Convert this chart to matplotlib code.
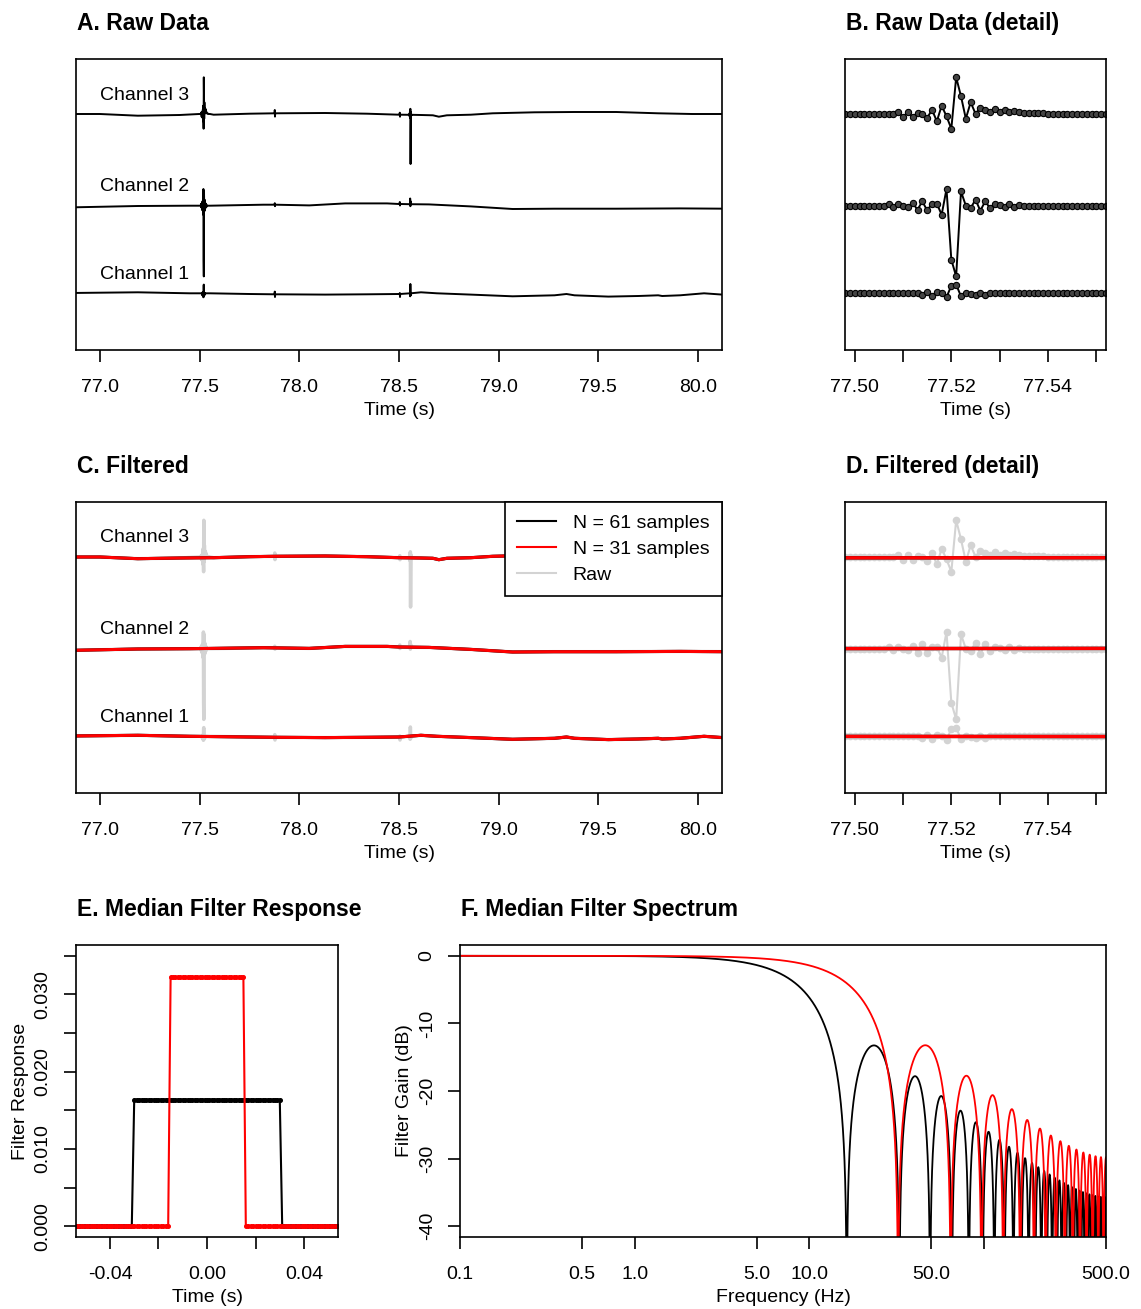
import numpy as np
import matplotlib
matplotlib.use("Agg")
import matplotlib.pyplot as plt
from matplotlib.lines import Line2D

plt.rcParams['font.family'] = ['Liberation Sans', 'DejaVu Sans']
plt.rcParams['axes.unicode_minus'] = False

# ---- raw traces: slow baseline waypoints (deviation from channel offset) ----
ch_offsets = [56.7, 144.3, 236.0]
ch_names = ["Channel 1", "Channel 2", "Channel 3"]

ch1_base_t = [76.85, 77.19, 77.45, 77.75, 77.88, 78.13, 78.34, 78.50, 78.61, 78.69, 78.86,
              79.07, 79.28, 79.34, 79.38, 79.55, 79.70, 79.80, 79.82, 79.91, 80.03, 80.15]
ch1_base_v = [0.3, 1.0, 0.0, -0.7, -1.0, -1.3, -1.0, -0.7, 1.0, 0.0, -1.3,
              -3.0, -2.0, -0.7, -2.0, -3.3, -2.7, -2.0, -2.7, -2.0, 0.0, -1.7]

ch2_base_t = [76.85, 77.19, 77.45, 77.82, 78.05, 78.23, 78.44, 78.50, 78.65, 78.86, 79.07,
              79.28, 79.59, 79.91, 80.15]
ch2_base_v = [-1.7, -0.3, 0.0, 1.0, 0.3, 2.3, 2.3, 1.7, 1.3, -0.7, -3.3,
              -3.0, -3.0, -2.7, -3.0]

ch3_base_t = [76.85, 77.00, 77.19, 77.40, 77.57, 77.75, 77.88, 78.13, 78.34, 78.50, 78.61,
              78.67, 78.70, 78.74, 78.86, 78.97, 79.18, 79.38, 79.59, 79.80, 79.97, 80.15]
ch3_base_v = [0.0, 0.0, -1.7, -1.0, -0.7, 0.3, 0.7, 1.0, 0.3, -0.7, -1.0,
              -1.3, -2.7, -1.3, -0.7, 0.7, 1.7, 2.0, 2.0, 0.7, 0.0, 0.0]

# ---- 1 kHz samples around the first spike (77.498 .. 77.552 s) ----
detail_t0 = 77.498
ch1_detail = [0.0] * 16 + [-2.0, 1.0, -2.3, 1.0, 0.3, -4.0, 7.7, 8.7, -3.0, 0.3, -0.3,
                           -1.3, 0.3, -1.3] + [0.0] * 25
ch2_detail = [0.0] * 9 + [1.7, -1.7, 2.0, 0.0, -1.3, 2.7, -4.0, 4.3, -4.7, 2.0, 2.0, -9.0,
                          16.7, -54.0, -70.7, 14.3, 0.0, -2.3, 6.0, -5.0, 4.3, -2.3, 1.7,
                          1.0, -1.3, 2.0, -1.7, 1.0] + [0.0] * 18
ch3_detail = [0.0] * 11 + [1.7, -2.7, 1.7, -2.7, 1.0, 0.0, -4.0, 4.3, -7.3, 8.3, -2.3,
                           -14.7, 36.7, 17.7, -4.7, 11.7, 0.3, 6.0, 4.3, 2.0, 5.3, 1.7,
                           3.7, 1.7, 2.7, 2.0, 1.0] + [0.7, 0.7, 0.7, 0.7, 0.3, 0.3, 0.3,
                                                       0.3] + [0.0] * 9

# ---- other short transients (raw only), 1 kHz samples ----
ch1_ev_t = [77.876, 77.877, 77.878, 77.879, 78.503, 78.504, 78.505, 78.506,
            78.555, 78.556, 78.557, 78.558, 78.559, 78.560]
ch1_ev_v = [-1.0, 1.7, -3.7, -1.0, -0.7, 0.3, -3.7, -0.7,
            0.0, -3.0, 9.3, 2.0, -2.0, 0.0]
ch2_ev_t = [77.876, 77.877, 77.878, 77.879, 78.503, 78.504, 78.505, 78.506,
            78.555, 78.556, 78.557, 78.558, 78.559]
ch2_ev_v = [1.0, 2.5, -0.5, 1.0, 1.7, 3.7, 0.2, 1.7,
            1.5, 7.2, -0.5, 4.5, 1.5]
ch3_ev_t = [77.876, 77.877, 77.878, 77.879, 78.503, 78.504, 78.505, 78.506,
            78.552, 78.553, 78.554, 78.555, 78.556, 78.557, 78.558, 78.559, 78.560,
            78.561, 78.562]
ch3_ev_v = [0.7, 4.0, -2.6, 0.7, -0.7, 1.3, -2.7, -0.7,
            -0.8, 0.7, -2.8, 3.2, -3.8, 5.2, -50.0, -18.0, 2.2, -1.8, -0.8]

# ---- filters ----
filter_lengths = [61, 31]
filter_colors = ["black", "red"]
fs = 1000.0
kernel_samples = np.arange(-55, 56)

W, H = 1141, 1309
FS = 14
fig = plt.figure(figsize=(W / 100, H / 100), dpi=100)


def add_ax(l, t, r, b):
    return fig.add_axes([l / W, 1 - b / H, (r - l) / W, (b - t) / H])


def style(ax):
    for s in ax.spines.values():
        s.set_linewidth(1.2)
    ax.tick_params(direction='out', length=8.5, width=1.2, labelsize=FS, pad=12.5)


def title(ax, txt):
    ax.set_title(txt, loc='left', fontsize=16.5, fontweight='bold', pad=21, x=0.002)


det_t = detail_t0 + np.arange(len(ch1_detail)) / fs
bases = [(ch1_base_t, ch1_base_v), (ch2_base_t, ch2_base_v), (ch3_base_t, ch3_base_v)]
details = [ch1_detail, ch2_detail, ch3_detail]
events = [(ch1_ev_t, ch1_ev_v), (ch2_ev_t, ch2_ev_v), (ch3_ev_t, ch3_ev_v)]


def raw_trace(i):
    bt, bv = np.array(bases[i][0]), np.array(bases[i][1])
    keep = (bt < det_t[0]) | (bt > det_t[-1])
    t = np.concatenate([bt[keep], det_t, events[i][0]])
    v = np.concatenate([bv[keep], details[i], events[i][1]])
    o = np.argsort(t)
    return t[o], v[o] + ch_offsets[i]


def time_axis(ax, ticks, labels):
    ax.set_xticks(ticks)
    ax.set_xticklabels(labels)
    ax.set_yticks([])
    ax.set_ylim(0, 291)
    ax.set_xlabel("Time (s)", fontsize=FS, labelpad=4)


wide_ticks = [77.0, 77.5, 78.0, 78.5, 79.0, 79.5, 80.0]
wide_labels = ["%.1f" % v for v in wide_ticks]
det_ticks = [77.50, 77.51, 77.52, 77.53, 77.54, 77.55]
det_labels = ["77.50", "", "77.52", "", "77.54", ""]

# A. raw
axA = add_ax(76, 59, 722, 350)
style(axA)
for i in range(3):
    t, v = raw_trace(i)
    axA.plot(t, v, color='black', lw=1.4)
    axA.text(77.0, ch_offsets[i] + 19, ch_names[i], fontsize=FS, va='center', ha='left')
axA.set_xlim(76.88, 80.12)
time_axis(axA, wide_ticks, wide_labels)
title(axA, "A. Raw Data")

# B. raw detail
axB = add_ax(845, 59, 1106, 350)
style(axB)
for i in range(3):
    axB.plot(det_t, np.array(details[i]) + ch_offsets[i], color='black', lw=1.4,
             marker='o', ms=4.5, mfc='#444444', mec='black', mew=0.8)
axB.set_xlim(77.498, 77.552)
time_axis(axB, det_ticks, det_labels)
title(axB, "B. Raw Data (detail)")

# C. filtered
axC = add_ax(76, 502, 722, 793)
style(axC)
for i in range(3):
    t, v = raw_trace(i)
    axC.plot(t, v, color='#d3d3d3', lw=2.5)
    bt, bv = np.array(bases[i][0]), np.array(bases[i][1]) + ch_offsets[i]
    for c in filter_colors:
        axC.plot(bt, bv, color=c, lw=2.2)
    axC.text(77.0, ch_offsets[i] + 19, ch_names[i], fontsize=FS, va='center', ha='left')
axC.set_xlim(76.88, 80.12)
time_axis(axC, wide_ticks, wide_labels)
title(axC, "C. Filtered")
handles = [Line2D([], [], color='black', lw=1.5), Line2D([], [], color='red', lw=1.5),
           Line2D([], [], color='#d3d3d3', lw=1.5)]
labels = ["N = %d samples" % n for n in filter_lengths] + ["Raw"]
leg = axC.legend(handles, labels, loc='upper right', borderaxespad=0, fontsize=FS,
                 fancybox=False, framealpha=1, edgecolor='black', handlelength=2.0,
                 handletextpad=0.85, labelspacing=0.42, borderpad=0.65)
leg.get_frame().set_linewidth(1.2)

# D. filtered detail
axD = add_ax(845, 502, 1106, 793)
style(axD)
for i in range(3):
    axD.plot(det_t, np.array(details[i]) + ch_offsets[i], color='#d3d3d3', lw=1.5,
             marker='o', ms=4.5, mfc='#d3d3d3', mec='#d3d3d3')
    bt, bv = np.array(bases[i][0]), np.array(bases[i][1]) + ch_offsets[i]
    for c in filter_colors:
        axD.plot(bt, bv, color=c, lw=2.4)
axD.set_xlim(77.498, 77.552)
time_axis(axD, det_ticks, det_labels)
title(axD, "D. Filtered (detail)")

# E. filter response
axE = add_ax(76, 945, 338, 1237)
style(axE)
kt = kernel_samples / fs
for n, c in zip(filter_lengths, filter_colors):
    k = np.where(np.abs(kernel_samples) <= (n - 1) // 2, 1.0 / n, 0.0)
    axE.plot(kt, k, color=c, lw=1.5, marker='o', ms=2.6, mec=c, mfc=c)
axE.set_xlim(-0.054, 0.054)
axE.set_ylim(-0.0014, 0.0364)
axE.set_xticks([-0.04, -0.02, 0.0, 0.02, 0.04])
axE.set_xticklabels(["-0.04", "", "0.00", "", "0.04"])
yt = [0.0, 0.005, 0.01, 0.015, 0.02, 0.025, 0.03, 0.035]
axE.set_yticks(yt)
axE.set_yticklabels(["0.000", "", "0.010", "", "0.020", "", "0.030", ""],
                    rotation=90, va='center')
axE.tick_params(axis='y', pad=9)
axE.set_xlabel("Time (s)", fontsize=FS, labelpad=4)
axE.set_ylabel("Filter Response", fontsize=FS, labelpad=4)
title(axE, "E. Median Filter Response")

# F. filter spectrum
axF = add_ax(460, 945, 1106, 1237)
style(axF)
nfft = 2 ** 18
freqs = np.fft.rfftfreq(nfft, 1 / fs)
for n, c in zip(filter_lengths, filter_colors):
    k = np.where(np.abs(kernel_samples) <= (n - 1) // 2, 1.0 / n, 0.0)
    gain = 20 * np.log10(np.maximum(np.abs(np.fft.rfft(k, nfft)), 1e-9))
    axF.plot(freqs[1:], gain[1:], color=c, lw=1.3)
axF.set_xscale('log')
axF.set_xlim(0.1, 500)
axF.set_ylim(-41.6, 1.6)
ft = [0.1, 0.5, 1, 5, 10, 50, 100, 500]
axF.set_xticks(ft)
axF.set_xticklabels(["0.1", "0.5", "1.0", "5.0", "10.0", "50.0", "", "500.0"])
axF.xaxis.set_minor_locator(matplotlib.ticker.NullLocator())
axF.set_yticks([0, -10, -20, -30, -40])
axF.set_yticklabels(["0", "-10", "-20", "-30", "-40"], rotation=90, va='center')
axF.tick_params(axis='y', pad=9)
axF.set_xlabel("Frequency (Hz)", fontsize=FS, labelpad=4)
axF.set_ylabel("Filter Gain (dB)", fontsize=FS, labelpad=4)
title(axF, "F. Median Filter Spectrum")

fig.savefig("out.png", dpi=100)
